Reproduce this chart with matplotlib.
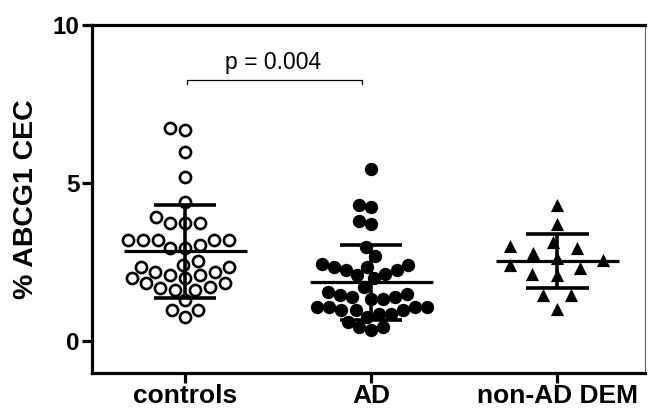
import numpy as np
import matplotlib
matplotlib.use("Agg")
import matplotlib.pyplot as plt

plt.rcParams['font.family'] = ['Liberation Sans', 'DejaVu Sans']

groups = ["controls", "AD", "non-AD DEM"]

controls = [6.68, 6.73, 5.99, 5.20, 4.41,
            3.92, 3.74, 3.74, 3.74,
            3.20, 3.20, 3.20, 3.20, 3.20,
            3.04, 2.94, 2.94,
            2.40, 2.35, 2.19, 2.19, 2.35, 2.54,
            2.09, 1.99, 1.83, 1.72, 1.61, 1.61, 1.68, 1.83, 1.99, 2.09,
            1.30, 0.98, 0.77, 0.98]

ad = [5.46, 4.30, 4.25, 3.81, 3.70, 2.98, 2.70,
      2.46, 2.35, 2.25, 2.14, 2.09, 2.25, 2.35, 2.41, 1.99,
      1.51, 1.40, 1.35, 1.72, 1.56, 1.35, 1.40, 1.46,
      1.09, 0.98, 0.88, 0.77, 1.09, 1.09, 0.98, 0.88, 0.98, 1.09,
      0.45, 0.35, 0.45, 0.61]

non_ad = [4.30, 3.72, 3.01, 3.14, 2.95, 2.79, 2.56, 2.64,
          2.33, 2.40, 2.11, 2.14, 1.46, 1.46, 1.03]

p_text = "p = 0.004"


def swarm_offsets(values, sx, sy, px_x, px_y):
    """beeswarm with an elliptic no-overlap zone (sx wide, sy tall, in pixels)"""
    ys = np.asarray(values) * px_y
    xs = np.zeros(len(ys))
    done = []
    for i in np.argsort(ys, kind='stable'):
        for k in range(0, 600):
            cand = (k + 1) // 2 * (-1 if k % 2 else 1)
            ok = all(((cand - xs[j]) / sx) ** 2 + ((ys[i] - ys[j]) / sy) ** 2 >= 1 for j in done)
            if ok:
                xs[i] = cand
                break
        done.append(i)
    return xs / px_x


fig = plt.figure(figsize=(6.49, 4.15), dpi=100)
ax = fig.add_axes([92 / 649, 42 / 415, 553 / 649, 348 / 415])
ax.set_xlim(-0.5, 2.47)
ax.set_ylim(-1, 10)

p0 = ax.transData.transform((0, 0))
p1 = ax.transData.transform((1, 1))
px_x, px_y = p1[0] - p0[0], p1[1] - p0[1]

data = [controls, ad, non_ad]
spacing = [(15.0, 13.0), (11.5, 14.0), (25.0, 16.0)]
styles = [dict(marker='o', s=8.0 ** 2, facecolors='white', edgecolors='black', linewidths=1.9),
          dict(marker='o', s=9.6 ** 2, facecolors='black', edgecolors='black', linewidths=0),
          dict(marker='^', s=9.5 ** 2, facecolors='black', edgecolors='black', linewidths=0)]

for i, (vals, st) in enumerate(zip(data, styles)):
    off = swarm_offsets(vals, spacing[i][0], spacing[i][1], px_x, px_y)
    ax.scatter(i + off, vals, zorder=2, clip_on=False, **st)
    m = np.mean(vals)
    sd = np.std(vals, ddof=1)
    ax.hlines(m, i - 0.33, i + 0.33, color='black', lw=2.3, zorder=3)
    ax.vlines(i, m - sd, m + sd, color='black', lw=2.6, zorder=3)
    ax.hlines([m - sd, m + sd], i - 0.167, i + 0.167, color='black', lw=2.6, zorder=3)

# significance bracket
ax.plot([0.01, 0.01, 0.95, 0.95], [8.14, 8.26, 8.26, 8.14], color='black', lw=0.9)
ax.text(0.47, 8.45, p_text, ha='center', va='bottom', fontsize=16.5)

ax.set_xticks(range(len(groups)))
ax.set_xticklabels(groups, fontsize=19, fontweight='bold')
ax.set_yticks([0, 5, 10])
ax.set_yticklabels(['0', '5', '10'], fontsize=17.5, fontweight='bold')
ax.set_ylabel('% ABCG1 CEC', fontsize=20.5, fontweight='bold', labelpad=10)

ax.tick_params(axis='both', width=2.3, length=7, color='black')
ax.tick_params(axis='x', pad=1)
ax.tick_params(axis='y', pad=2)
for side in ['left', 'bottom', 'top']:
    ax.spines[side].set_linewidth(2.3)
ax.spines['right'].set_linewidth(0.8)
ax.spines['right'].set_color('#666666')

fig.savefig('out.png', dpi=100)
